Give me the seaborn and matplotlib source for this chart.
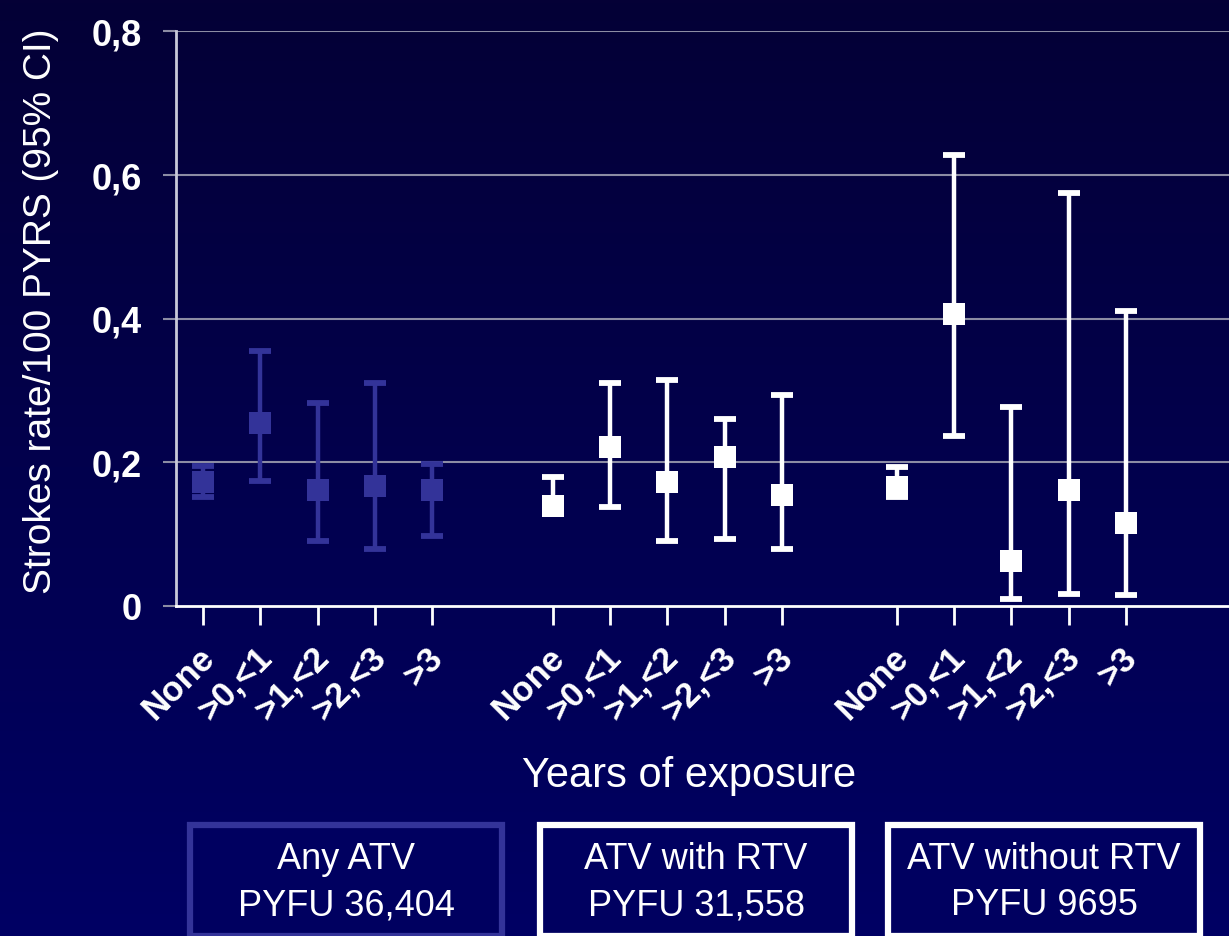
import numpy as np
import pandas as pd
import matplotlib
matplotlib.use("Agg")
import matplotlib.pyplot as plt
from matplotlib.patches import Rectangle
from matplotlib.transforms import ScaledTranslation
import seaborn as sns

# Exposure categories and the three ATV groups
exposure = ["None", ">0,<1", ">1,<2", ">2,<3", ">3"]
groups = ["Any ATV", "ATV with RTV", "ATV without RTV"]
pyfu = ["PYFU 36,404", "PYFU 31,558", "PYFU 9695"]

# Stroke rate per 100 PYRS with 95% CI, one list per group
any_rate = [0.173, 0.254, 0.161, 0.167, 0.162]
any_lo = [0.152, 0.174, 0.091, 0.079, 0.098]
any_hi = [0.195, 0.355, 0.283, 0.310, 0.197]

rtv_rate = [0.139, 0.221, 0.172, 0.207, 0.154]
rtv_lo = [0.136, 0.138, 0.090, 0.093, 0.079]
rtv_hi = [0.179, 0.310, 0.315, 0.260, 0.294]

nortv_rate = [0.165, 0.406, 0.063, 0.161, 0.115]
nortv_lo = [0.151, 0.237, 0.010, 0.017, 0.015]
nortv_hi = [0.193, 0.627, 0.277, 0.575, 0.410]

y_ticks = [0, 0.2, 0.4, 0.6, 0.8]
y_ticklabels = ["0", "0,2", "0,4", "0,6", "0,8"]

# layout: starting slot of each group along the x axis
group_start = [0.0, 6.12, 12.14]
group_colors = ["#333399", "white", "white"]
box_edges = ["#333399", "white", "white"]

rows = []
for g, start, rate, lo, hi in zip(groups, group_start,
                                  [any_rate, rtv_rate, nortv_rate],
                                  [any_lo, rtv_lo, nortv_lo],
                                  [any_hi, rtv_hi, nortv_hi]):
    for i, cat in enumerate(exposure):
        rows.append(dict(group=g, exposure=cat, pos=start + i,
                         rate=rate[i], lo=lo[i], hi=hi[i]))
df = pd.DataFrame(rows)

sns.set_theme(style="white")
plt.rcParams["font.family"] = ["Liberation Sans", "DejaVu Sans"]

W, H = 1229, 937
fig = plt.figure(figsize=(W / 100, H / 100), dpi=100)

# vertical navy gradient behind everything
bg = fig.add_axes([0, 0, 1, 1], zorder=-10)
grad = np.linspace(0, 1, 256)[:, None]
top = np.array([0x04, 0x00, 0x36]) / 255
bot = np.array([0x00, 0x00, 0x64]) / 255
img = top[None, None, :] * (1 - grad[..., None]) + bot[None, None, :] * grad[..., None]
bg.imshow(img, aspect="auto", extent=[0, 1, 0, 1], origin="upper")
bg.set_axis_off()

ax_left = 176 / W
ax_bottom = 1 - 607 / H
ax_top = 1 - 32 / H
ax = fig.add_axes([ax_left, ax_bottom, 1 - ax_left, ax_top - ax_bottom])
ax.patch.set_alpha(0)

px = 57.15  # pixels per slot
ax.set_xlim((176 - 203.3) / px, (1229 - 203.3) / px)
ax.set_ylim(0, 0.8)

grid_col = "#8c8ca4"
for yv in y_ticks[1:]:
    ax.axhline(yv, color=grid_col, lw=1.5, zorder=0)

for g, col in zip(groups, group_colors):
    sub = df[df.group == g]
    ax.errorbar(sub.pos, sub.rate,
                yerr=[sub.rate - sub.lo, sub.hi - sub.rate],
                fmt="none", ecolor=col, elinewidth=3.2,
                capsize=8, capthick=4.2, zorder=3)
    sns.scatterplot(data=sub, x="pos", y="rate", ax=ax, marker="s",
                    s=230, color=col, edgecolor=col, linewidth=0,
                    zorder=4, legend=False)

for side in ["top", "right"]:
    ax.spines[side].set_visible(False)
ax.spines["left"].set_color("#c8c8d8")
ax.spines["left"].set_linewidth(2)
ax.spines["left"].set_bounds(0, 0.8)
ax.spines["bottom"].set_color("white")
ax.spines["bottom"].set_linewidth(2)
ax.spines["bottom"].set_zorder(5)

ax.set_yticks(y_ticks)
ax.set_yticklabels(y_ticklabels, fontsize=26, fontweight="bold", color="white")
ax.tick_params(axis="y", length=9.5, width=1.5, color=grid_col, pad=15, left=True)

ax.set_xticks(df.pos)
ax.set_xticklabels(df.exposure, fontsize=25, fontweight="bold", color="white",
                   rotation=45, ha="right", va="center", rotation_mode="anchor")
ax.tick_params(axis="x", length=14, width=2, color="white", pad=19, bottom=True)
shift = ScaledTranslation(6 / 100, 0, fig.dpi_scale_trans)
for lab in ax.get_xticklabels():
    lab.set_transform(lab.get_transform() + shift)

ax.set_xlabel("")
ax.set_ylabel("Strokes rate/100 PYRS (95% CI)", fontsize=28, color="white")
ax.yaxis.set_label_coords(-(176 - 59) / (W - 176), 0.514)

fig.text(689 / W, 1 - 776 / H, "Years of exposure", fontsize=30,
         color="white", ha="center", va="center")

# group boxes under the axis
box_x = [190, 540, 888]
box_w = 312
for x0, name, py, ec in zip(box_x, groups, pyfu, box_edges):
    rect = Rectangle((x0 / W, 0.0), box_w / W, (937 - 826) / H,
                     transform=fig.transFigure, facecolor="#000060",
                     edgecolor=ec, linewidth=4.5, zorder=2)
    fig.patches.append(rect)
    cx = (x0 + box_w / 2) / W
    fig.text(cx, 1 - 860 / H, name, fontsize=26, color="white",
             ha="center", va="center", zorder=3)
    fig.text(cx, 1 - 906 / H, py, fontsize=26, color="white",
             ha="center", va="center", zorder=3)

fig.savefig("out.png", dpi=100, facecolor=fig.get_facecolor())
